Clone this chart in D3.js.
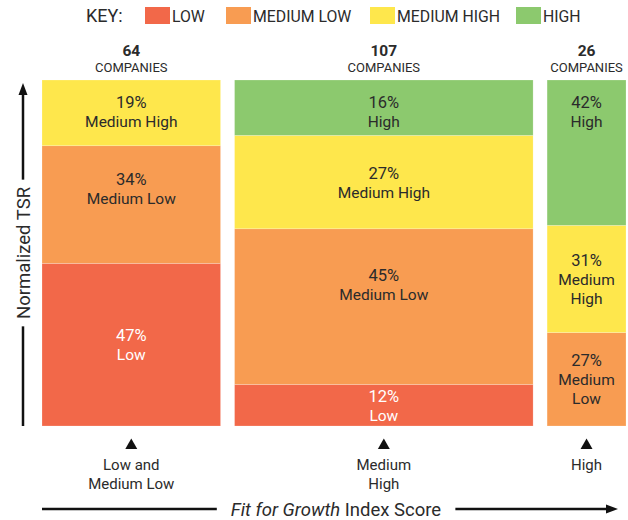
<!DOCTYPE html>
<html>
<head>
<meta charset="utf-8">
<script src="https://cdn.jsdelivr.net/npm/d3@7"></script>
<style>
  html, body { margin: 0; padding: 0; background: #fff; }
  svg { display: block; font-family: Roboto, "Noto Sans", sans-serif; }
</style>
</head>
<body>
<svg id="chart" width="628" height="520"></svg>
<script>
// ---- data ----
const groups = ["Low and Medium Low", "Medium High", "High"];
const groupLines = [["Low and", "Medium Low"], ["Medium", "High"], ["High"]];
const companies = [64, 107, 26];
const tiers = ["Low", "Medium Low", "Medium High", "High"];
const keyLabels = ["LOW", "MEDIUM LOW", "MEDIUM HIGH", "HIGH"];
const lowShare = [47, 12, 0];
const mediumLowShare = [34, 45, 27];
const mediumHighShare = [19, 27, 31];
const highShare = [0, 16, 42];
const tierColors = ["#F26849", "#F89C52", "#FEE74C", "#8CC96E"];

// ---- layout ----
const W = 628, H = 520;
const plotLeft = 42, plotTop = 80, plotBottom = 426, gap = 14, pxPerCompany = 2.79;
const svg = d3.select("#chart");
const ink = "#2b2b2b";

const total = d3.sum(companies);
const x = d3.scaleLinear().domain([0, total]).range([plotLeft, plotLeft + total * pxPerCompany]);
const y = d3.scaleLinear().domain([0, 100]).range([plotBottom, plotTop]);
const color = d3.scaleOrdinal().domain(tiers).range(tierColors);

const shares = [lowShare, mediumLowShare, mediumHighShare, highShare];
const cum = d3.cumsum([0].concat(companies));
const cols = groups.map((g, i) => {
  const x0 = x(cum[i]) + i * gap;
  let x1 = x(cum[i + 1]) + i * gap;
  if (i === groups.length - 1) x1 = Math.max(x1, W - 2); // last column bleeds to frame edge
  let acc = 0;
  const segs = tiers.map((t, k) => {
    const v = shares[k][i];
    const s = { tier: t, value: v, y0: acc, y1: acc + v };
    acc += v;
    return s;
  }).filter(s => s.value > 0);
  return { group: g, n: companies[i], x0, x1, segs, lines: groupLines[i] };
});

// ---- key ----
const key = svg.append("g");
key.append("text").attr("x", 86).attr("y", 22).attr("font-size", 18).attr("fill", ink).text("KEY:");
const keyX = [145, 226, 370, 516];
tiers.forEach((t, k) => {
  key.append("rect").attr("x", keyX[k]).attr("y", 7).attr("width", 25).attr("height", 17).attr("fill", color(t));
  key.append("text").attr("x", keyX[k] + 27).attr("y", 22).attr("font-size", 15.8).attr("fill", ink).text(keyLabels[k]);
});

// ---- columns ----
const colG = svg.append("g").selectAll("g").data(cols).join("g");

colG.each(function(c, i) {
  const g = d3.select(this);
  const w = c.x1 - c.x0;
  const cx = (c.x0 + c.x1) / 2;
  // header
  g.append("text").attr("x", cx).attr("y", 56).attr("text-anchor", "middle")
    .attr("font-size", 15.5).attr("font-weight", "bold").attr("fill", ink).text(c.n);
  g.append("text").attr("x", cx).attr("y", 72).attr("text-anchor", "middle")
    .attr("font-size", 13).attr("fill", ink).text("COMPANIES");

  c.segs.forEach((s, j) => {
    const top = y(s.y1), bot = y(s.y0);
    g.append("rect").attr("x", c.x0).attr("y", top).attr("width", w).attr("height", bot - top)
      .attr("fill", color(s.tier)).attr("stroke", "rgba(255,255,255,0.35)").attr("stroke-width", 0.6);
    const name = w < 100 && s.tier.includes(" ") ? s.tier.split(" ") : [s.tier];
    const lines = [s.value + "%"].concat(name);
    const lh = 19, cap = 12;
    const blockH = cap + lh * (lines.length - 1);
    const h = bot - top;
    const isTop = j === c.segs.length - 1;
    const isBottom = j === 0;
    let center;
    if (isTop) center = top + 31;
    else if (!isBottom && h > 110) center = top + 0.36 * h;
    else center = top + h / 2;
    const first = center - blockH / 2 + cap;
    const fill = s.tier === "Low" ? "#ffffff" : ink;
    lines.forEach((ln, li) => {
      g.append("text").attr("x", cx).attr("y", first + li * lh).attr("text-anchor", "middle")
        .attr("font-size", li === 0 ? 16.5 : 15.5).attr("fill", fill).text(ln);
    });
  });

  // bottom markers
  g.append("path").attr("d", d3.symbol(d3.symbolTriangle, 62)()).attr("transform", `translate(${cx},445.5)`).attr("fill", "#111");
  c.lines.forEach((ln, li) => {
    g.append("text").attr("x", cx).attr("y", 470 + li * 19).attr("text-anchor", "middle")
      .attr("font-size", 15).attr("fill", ink).text(ln);
  });
});

// ---- y axis arrow ----
const yAx = svg.append("g");
const yt = yAx.append("text").attr("transform", `translate(29.5,253) rotate(-90)`).attr("text-anchor", "middle")
  .attr("font-size", 18.5).attr("fill", ink).text("Normalized TSR");
const yb = yt.node().getBBox();
const half = yb.width / 2 + 7;
yAx.append("line").attr("x1", 23).attr("x2", 23).attr("y1", plotBottom).attr("y2", 253 + half).attr("stroke", "#111").attr("stroke-width", 2.5);
yAx.append("line").attr("x1", 23).attr("x2", 23).attr("y1", 253 - half).attr("y2", 92).attr("stroke", "#111").attr("stroke-width", 2.5);
yAx.append("path").attr("d", "M23,83 L18.5,95 L27.5,95 Z").attr("fill", "#111");

// ---- x axis arrow ----
const xAx = svg.append("g");
const xt = xAx.append("text").attr("x", 336).attr("y", 515.5).attr("text-anchor", "middle").attr("font-size", 18.5).attr("fill", ink);
xt.append("tspan").attr("font-style", "italic").text("Fit for Growth");
xt.append("tspan").text(" Index Score");
const xb = xt.node().getBBox();
xAx.append("line").attr("x1", plotLeft).attr("x2", xb.x - 14).attr("y1", 509).attr("y2", 509).attr("stroke", "#111").attr("stroke-width", 2.5);
xAx.append("line").attr("x1", xb.x + xb.width + 14).attr("x2", 610).attr("y1", 509).attr("y2", 509).attr("stroke", "#111").attr("stroke-width", 2.5);
xAx.append("path").attr("d", "M618,509 L606,504.5 L606,513.5 Z").attr("fill", "#111");
</script>
</body>
</html>
